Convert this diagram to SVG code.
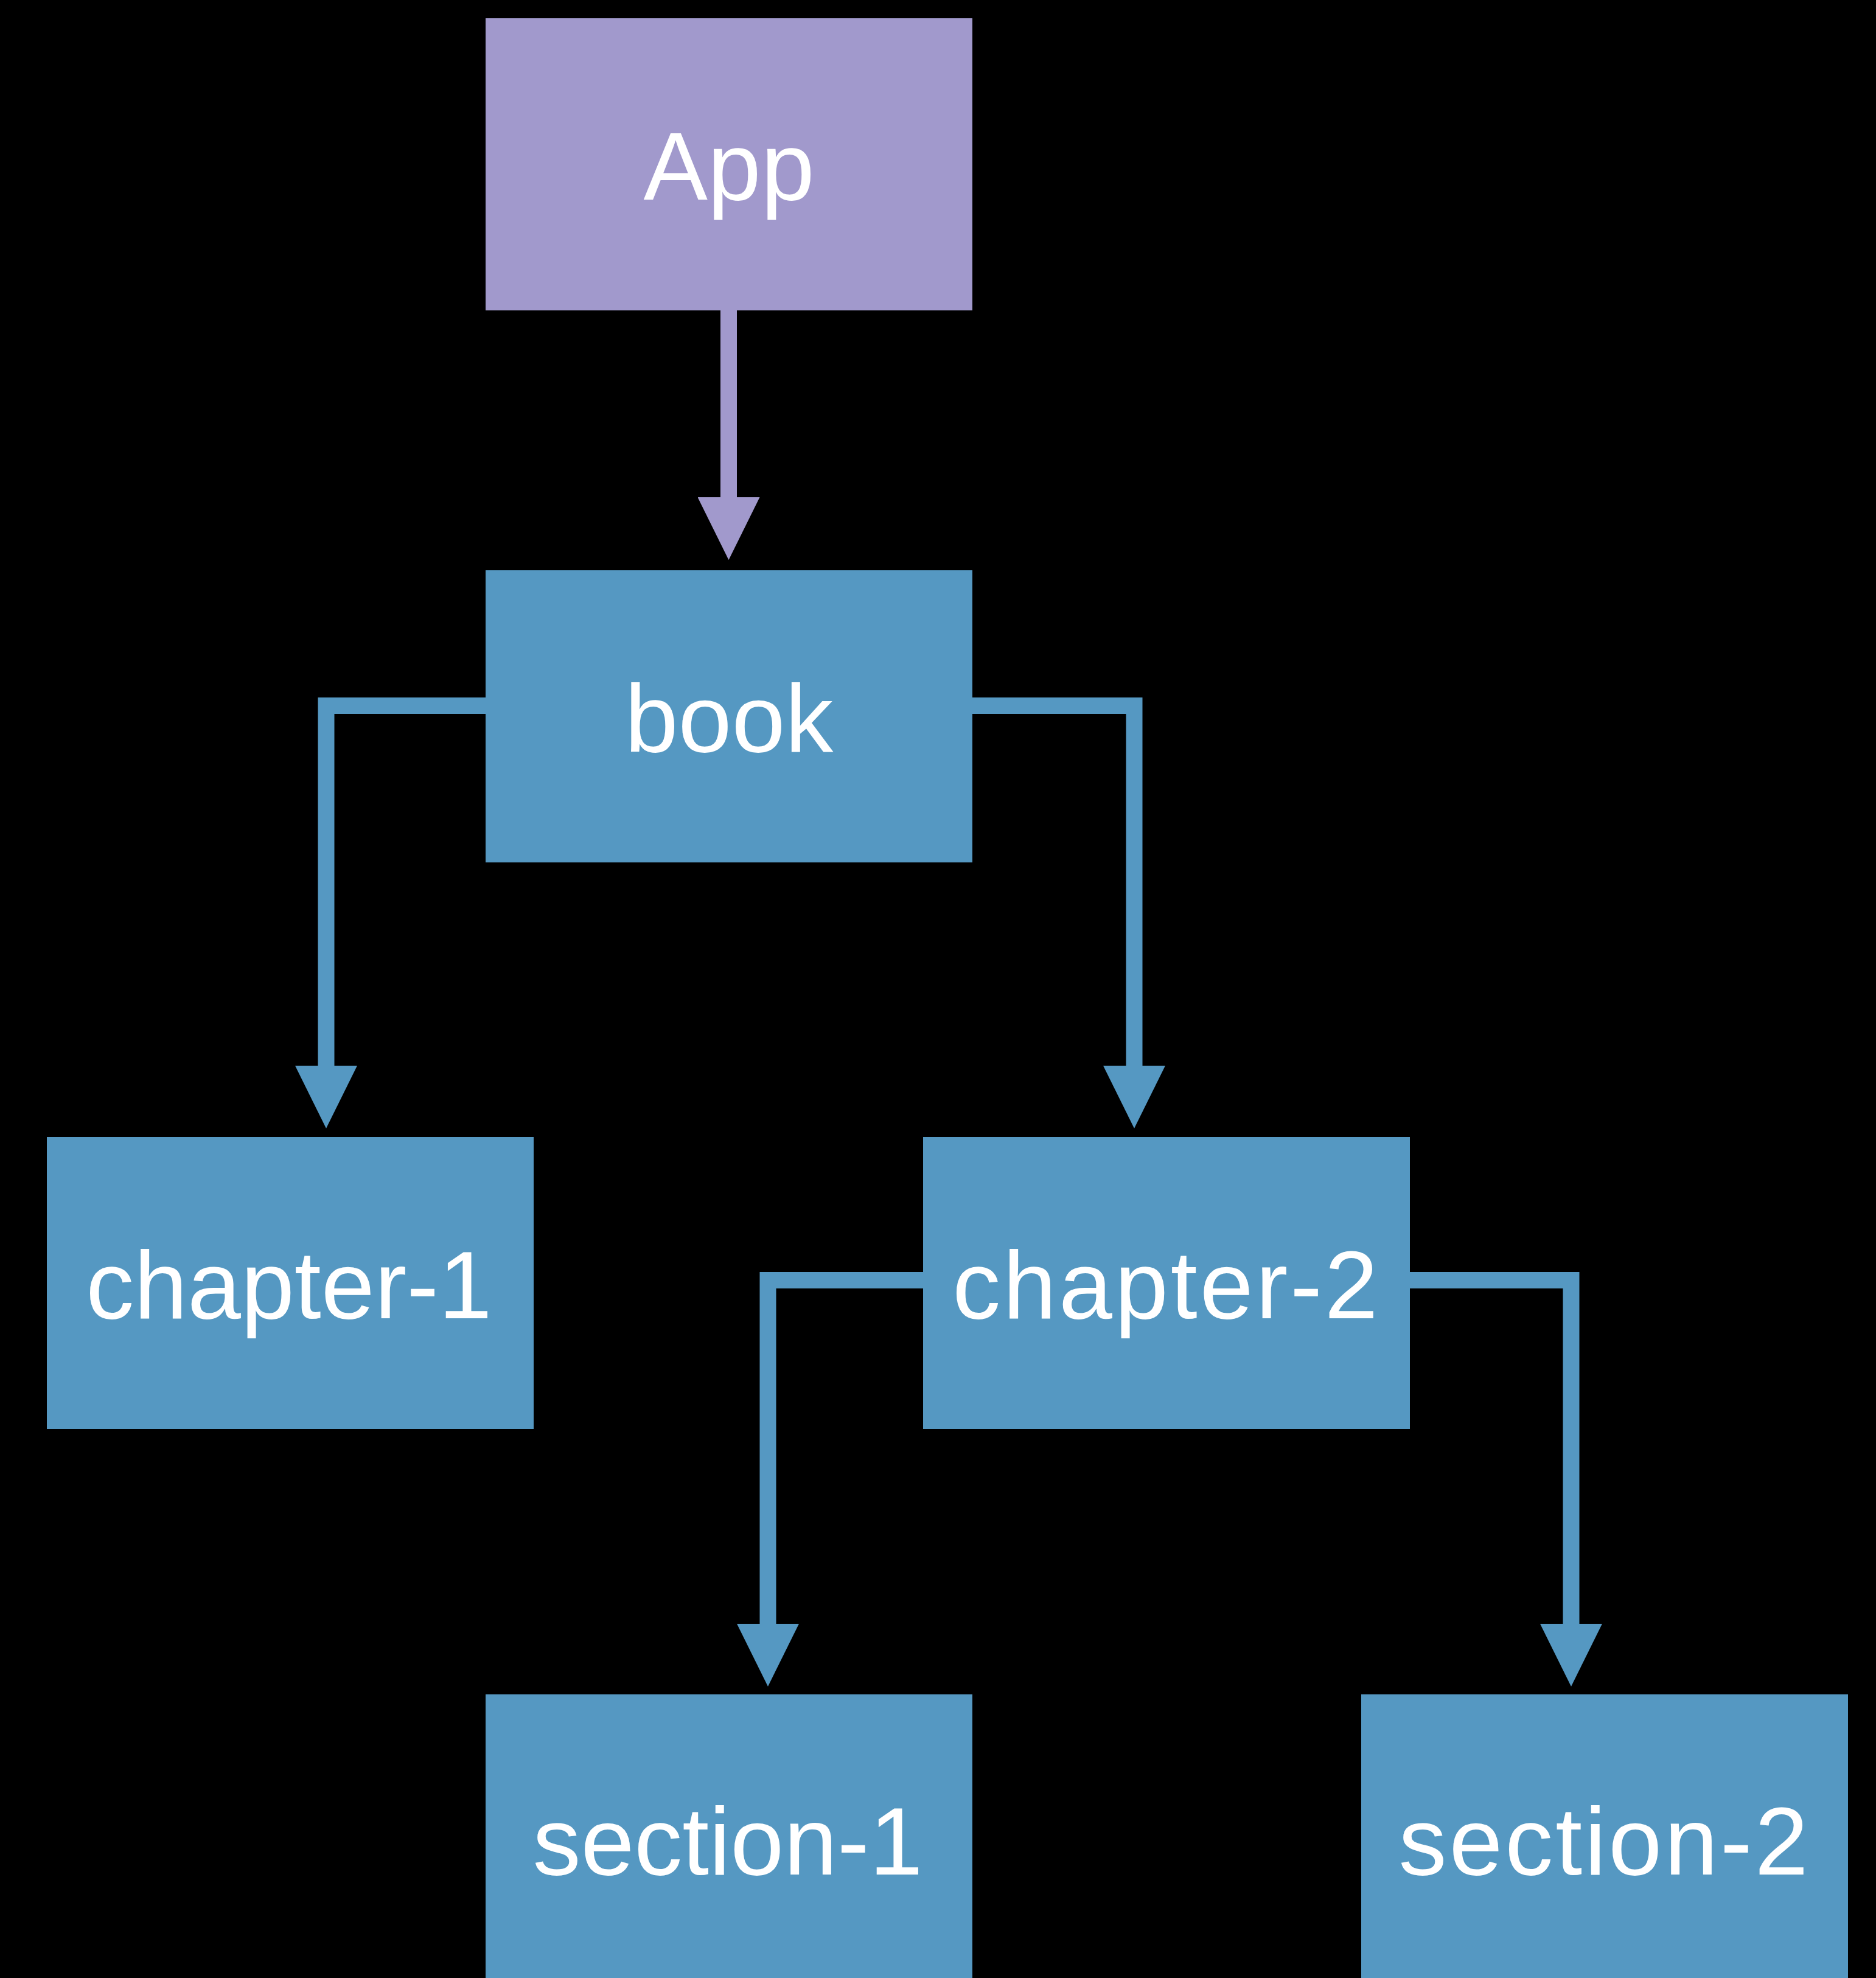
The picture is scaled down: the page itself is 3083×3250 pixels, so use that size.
<svg xmlns="http://www.w3.org/2000/svg" width="3083" height="3250" viewBox="0 0 3083 3250">
  <style>
    .box-app { fill: #A199CC; }
    .box { fill: #5598C2; }
    .label { font-family: "Liberation Sans", Arial, sans-serif; font-size: 158px; fill: #FFFFFF; text-anchor: middle; }
    .wide { letter-spacing: 4px; }
    .conn { fill: none; stroke-width: 27; stroke-linejoin: miter; stroke-linecap: butt; }
    .conn-app { stroke: #A199CC; marker-end: url(#headApp); }
    .conn-blue { stroke: #5598C2; marker-end: url(#headBlue); }
  </style>
  <defs>
    <marker id="headApp" markerUnits="userSpaceOnUse" markerWidth="103" markerHeight="102" refX="0" refY="51" orient="auto" viewBox="0 0 103 102">
      <path d="M0,0 L103,51 L0,102 Z" fill="#A199CC"/>
    </marker>
    <marker id="headBlue" markerUnits="userSpaceOnUse" markerWidth="103" markerHeight="102" refX="0" refY="51" orient="auto" viewBox="0 0 103 102">
      <path d="M0,0 L103,51 L0,102 Z" fill="#5598C2"/>
    </marker>
  </defs>
  <rect x="0" y="0" width="3083" height="3250" fill="#000000"/>
  <g id="connectors">
    <path class="conn conn-app" d="M1197.5,510 V817"/>
    <path class="conn conn-blue" d="M798,1159.5 H536 V1751"/>
    <path class="conn conn-blue" d="M1598,1159.5 H1864 V1751"/>
    <path class="conn conn-blue" d="M1517,2103.5 H1262 V2668"/>
    <path class="conn conn-blue" d="M2317,2103.5 H2582 V2668"/>
  </g>
  <g id="node-app">
    <rect class="box-app" x="798" y="30" width="800" height="480"/>
    <text class="label" x="1198" y="328">App</text>
  </g>
  <g id="node-book">
    <rect class="box" x="798" y="937" width="800" height="480"/>
    <text class="label" x="1198" y="1235">book</text>
  </g>
  <g id="node-chapter-1">
    <rect class="box" x="77" y="1868" width="800" height="480"/>
    <text class="label" x="475" y="2166">chapter-1</text>
  </g>
  <g id="node-chapter-2">
    <rect class="box" x="1517" y="1868" width="800" height="480"/>
    <text class="label wide" x="1917" y="2166">chapter-2</text>
  </g>
  <g id="node-section-1">
    <rect class="box" x="798" y="2784" width="800" height="480"/>
    <text class="label" x="1196" y="3080">section-1</text>
  </g>
  <g id="node-section-2">
    <rect class="box" x="2237" y="2784" width="800" height="480"/>
    <text class="label wide" x="2637" y="3080">section-2</text>
  </g>
</svg>
